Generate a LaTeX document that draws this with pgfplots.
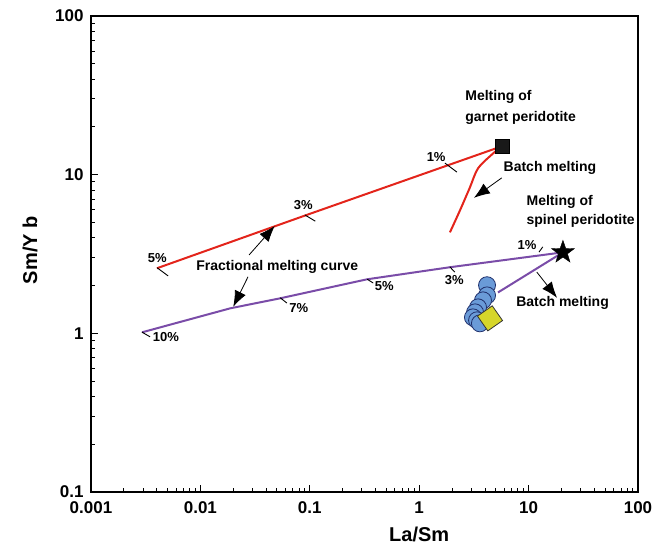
\documentclass[border=0pt]{standalone}
\usepackage{pgfplots}
\pgfplotsset{compat=1.18}
\usepackage{fontspec}
\setmainfont{Liberation Sans}
\usetikzlibrary{arrows.meta}
\definecolor{redl}{HTML}{E3241B}
\definecolor{purl}{HTML}{7A4CA8}
\definecolor{bluef}{HTML}{6A9BD8}
\definecolor{bluee}{HTML}{1F2F6B}
\definecolor{yelf}{HTML}{D6D62A}
\pgfdeclareplotmark{fstar}{%
  \pgfpathmoveto{\pgfqpointpolar{90}{\pgfplotmarksize}}%
  \pgfpathlineto{\pgfqpointpolar{126}{0.4\pgfplotmarksize}}%
  \pgfpathlineto{\pgfqpointpolar{162}{\pgfplotmarksize}}%
  \pgfpathlineto{\pgfqpointpolar{198}{0.4\pgfplotmarksize}}%
  \pgfpathlineto{\pgfqpointpolar{234}{\pgfplotmarksize}}%
  \pgfpathlineto{\pgfqpointpolar{270}{0.4\pgfplotmarksize}}%
  \pgfpathlineto{\pgfqpointpolar{306}{\pgfplotmarksize}}%
  \pgfpathlineto{\pgfqpointpolar{342}{0.4\pgfplotmarksize}}%
  \pgfpathlineto{\pgfqpointpolar{18}{\pgfplotmarksize}}%
  \pgfpathlineto{\pgfqpointpolar{54}{0.4\pgfplotmarksize}}%
  \pgfpathclose
  \pgfusepathqfillstroke}
\begin{document}
\begin{tikzpicture}
\path[use as bounding box] (0,0) rectangle (661pt,549pt);
\begin{axis}[
  at={(91pt,57pt)}, anchor=south west,
  scale only axis, width=547pt, height=476pt,
  xmode=log, ymode=log,
  xmin=0.001, xmax=100, ymin=0.1, ymax=100,
  axis line style={line width=1.8pt},
  tick align=inside, tick pos=left,
  major tick length=7pt, minor tick length=4pt,
  every tick/.style={black, line width=1pt},
  xtick={0.001,0.01,0.1,1,10,100},
  xticklabels={0.001,0.01,0.1,1,10,100},
  ytick={0.1,1,10,100},
  yticklabels={0.1,1,10,100},
  ticklabel style={font=\bfseries\fontsize{17}{17}\selectfont},
  xticklabel style={yshift=-6pt},
  yticklabel style={xshift=-4pt},
  xlabel={La/Sm}, ylabel={Sm/Y b},
  label style={font=\bfseries\fontsize{20}{20}\selectfont},
  xlabel style={at={(axis description cs:0.6,-0.09)}, anchor=center},
  ylabel style={at={(axis description cs:-0.1115,0.508)}, anchor=center},
  clip=false,
]
% red fractional melting (garnet)
\addplot[redl, line width=2pt] coordinates {(0.004,2.57) (0.09,5.52) (5.7,15.1)};
% red batch melting
\addplot[redl, line width=2pt, smooth] coordinates {(5.7,15.1) (4.73,13.6) (3.45,10.96) (2.91,8.32) (2.36,5.96) (1.91,4.33)};
% purple fractional melting (spinel)
\addplot[purl, line width=2pt] coordinates {(0.00293,1.015) (0.0187,1.437) (0.0535,1.662) (0.333,2.19) (1.91,2.61) (12.7,3.10) (20.6,3.24)};
% purple batch melting
\addplot[purl, line width=2pt] coordinates {(20.6,3.24) (5.25,1.81)};
% samples (blue circles)
\addplot[only marks, mark=*, mark size=8.5pt, mark options={fill=bluef, draw=bluee, line width=0.8pt}] coordinates {
(4.17,2.01) (4.17,1.735) (3.83,1.614) (3.45,1.458) (3.24,1.356) (3.10,1.261) (3.38,1.208) (3.59,1.156)};
% yellow diamond
\addplot[only marks, mark=square*, mark size=9pt, mark options={fill=yelf, draw=black!80, line width=0.8pt, rotate=35}] coordinates {(4.44,1.243)};
% source markers
\addplot[only marks, mark=square*, mark size=7pt, mark options={fill=black!90, draw=black}] coordinates {(5.7,15.1)};
\addplot[only marks, mark=fstar, mark size=12pt, mark options={fill=black, draw=black}] coordinates {(20.6,3.24)};

% text annotations
\begin{scope}[font=\bfseries\fontsize{14}{14}\selectfont]
\node[anchor=west] at (axis description cs:0.678,0.830) {Melting of};
\node[anchor=west] at (axis description cs:0.678,0.786) {garnet peridotite};
\node[anchor=west] at (axis description cs:0.748,0.681) {Batch melting};
\node[anchor=west] at (axis description cs:0.790,0.609) {Melting of};
\node[anchor=west] at (axis description cs:0.790,0.569) {spinel peridotite};
\node[anchor=west] at (axis description cs:0.771,0.397) {Batch melting};
\node[anchor=west] at (axis description cs:0.186,0.473) {Fractional melting curve};
\end{scope}
\begin{scope}[font=\bfseries\fontsize{13}{13}\selectfont]
\node at (axis description cs:0.121,0.492) {5\%};
\node at (axis description cs:0.388,0.603) {3\%};
\node at (axis description cs:0.631,0.704) {1\%};
\node at (axis description cs:0.137,0.326) {10\%};
\node at (axis description cs:0.380,0.387) {7\%};
\node at (axis description cs:0.536,0.433) {5\%};
\node at (axis description cs:0.664,0.445) {3\%};
\node at (axis description cs:0.797,0.519) {1\%};
\end{scope}
% tick segments on curves
\begin{scope}[line width=0.9pt]
\draw (axis description cs:0.121,0.471) -- (axis description cs:0.141,0.454);
\draw (axis description cs:0.391,0.582) -- (axis description cs:0.410,0.569);
\draw (axis description cs:0.647,0.691) -- (axis description cs:0.669,0.672);
\draw (axis description cs:0.093,0.336) -- (axis description cs:0.108,0.326);
\draw (axis description cs:0.346,0.408) -- (axis description cs:0.358,0.397);
\draw (axis description cs:0.505,0.447) -- (axis description cs:0.516,0.439);
\draw (axis description cs:0.656,0.473) -- (axis description cs:0.665,0.462);
\draw (axis description cs:0.819,0.504) -- (axis description cs:0.826,0.515);
\end{scope}
% arrows
\begin{scope}[line width=0.8pt, -{Latex[length=16pt,width=12pt]}]
\draw (axis description cs:0.751,0.660) -- (axis description cs:0.700,0.618);
\draw (axis description cs:0.815,0.462) -- (axis description cs:0.852,0.408);
\draw (axis description cs:0.289,0.498) -- (axis description cs:0.336,0.559);
\draw (axis description cs:0.287,0.452) -- (axis description cs:0.260,0.389);
\end{scope}
\end{axis}
\end{tikzpicture}
\end{document}
